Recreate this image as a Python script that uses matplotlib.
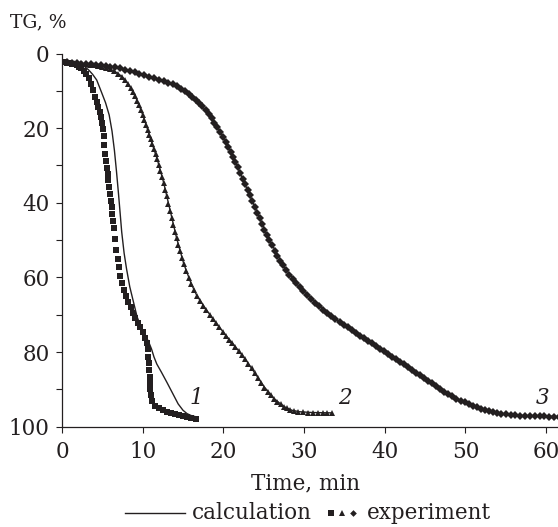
import matplotlib
matplotlib.use("Agg")
import matplotlib.pyplot as plt
from matplotlib.lines import Line2D
from matplotlib.ticker import MultipleLocator

# Experimental points (time, min / TG, %)
exp1_t = [0, 0.3, 0.6, 0.9, 1.2, 1.5, 1.8, 2.1, 2.4, 2.7, 3.0, 3.3, 3.6, 3.85, 4.1, 4.3,
          4.5, 4.65, 4.8, 4.95, 5.05, 5.15, 5.25, 5.35, 5.45, 5.55, 5.65, 5.75, 5.85, 5.95,
          6.05, 6.15, 6.25, 6.35, 6.45, 6.6, 6.75, 6.9, 7.05, 7.25, 7.45, 7.7, 7.95, 8.2,
          8.5, 8.8, 9.1, 9.4, 9.7, 10.0, 10.3, 10.5, 10.6, 10.7, 10.75, 10.8, 10.85, 10.9,
          10.95, 11.05, 11.2, 11.5, 12.0, 12.5, 13.0, 13.5, 14.0, 14.5, 15.0, 15.5, 16.0, 16.6]
exp1_y = [2.3, 2.4, 2.5, 2.6, 2.7, 2.8, 3.0, 3.5, 4.0, 4.6, 5.4, 6.6, 8.2, 9.8, 11.6, 12.9,
          14.3, 15.6, 17.0, 18.6, 20.3, 22.2, 24.4, 26.8, 28.8, 30.6, 32.3, 34.0, 35.8, 37.6,
          39.4, 41.1, 42.9, 44.8, 46.8, 49.8, 52.6, 55.0, 57.2, 59.5, 61.4, 63.4, 65.0, 66.5,
          68.0, 69.5, 70.9, 72.2, 73.4, 74.6, 76.2, 77.7, 79.3, 81.2, 83.0, 84.8, 86.6, 88.3,
          89.9, 91.5, 93.0, 94.4, 95.0, 95.5, 96.0, 96.3, 96.6, 96.9, 97.1, 97.4, 97.6, 97.9]

exp2_t = [0, 0.5, 1, 1.5, 2, 2.5, 3, 3.5, 4, 4.5, 5, 5.5, 6, 6.5, 7, 7.4, 7.8, 8.2, 8.5,
          8.8, 9.05, 9.3, 9.55, 9.8, 10.0, 10.2, 10.4, 10.6, 10.8, 11.0, 11.2, 11.4, 11.6,
          11.8, 12.0, 12.2, 12.4, 12.6, 12.8, 13.0, 13.2, 13.4, 13.6, 13.8, 14.0, 14.2, 14.4,
          14.6, 14.85, 15.1, 15.4, 15.7, 16.0, 16.35, 16.7, 17.1, 17.5, 17.9, 18.3, 18.7,
          19.1, 19.5, 19.9, 20.3, 20.7, 21.1, 21.5, 21.9, 22.3, 22.7, 23.1, 23.5, 23.9, 24.3,
          24.7, 25.1, 25.5, 25.9, 26.3, 26.7, 27.1, 27.5, 27.9, 28.3, 28.8, 29.3, 29.9, 30.5,
          31.1, 31.7, 32.3, 32.9, 33.5]
exp2_y = [2.3, 2.4, 2.5, 2.6, 2.7, 2.8, 2.9, 3.0, 3.1, 3.3, 3.5, 3.8, 4.2, 4.8, 5.5, 6.2,
          7.1, 8.2, 9.2, 10.3, 11.4, 12.6, 13.9, 15.2, 16.4, 17.7, 19.1, 20.5, 21.8, 23.0,
          24.3, 25.6, 27.0, 28.4, 29.9, 31.4, 33.0, 34.7, 36.5, 38.3, 40.2, 42.1, 44.0, 45.9,
          47.7, 49.5, 51.2, 52.8, 54.7, 56.5, 58.4, 60.1, 61.7, 63.4, 64.9, 66.3, 67.6, 68.8,
          70.0, 71.2, 72.3, 73.4, 74.5, 75.6, 76.7, 77.7, 78.7, 79.7, 80.8, 81.9, 83.1, 84.4,
          85.7, 87.0, 88.3, 89.5, 90.6, 91.6, 92.5, 93.3, 94.0, 94.6, 95.1, 95.5, 95.8, 96.0,
          96.1, 96.2, 96.2, 96.2, 96.2, 96.2, 96.2]

exp3_t = [0, 0.6, 1.2, 1.8, 2.4, 3.0, 3.6, 4.2, 4.8, 5.4, 6.0, 6.6, 7.2, 7.8, 8.4, 9.0, 9.6,
          10.2, 10.8, 11.4, 12.0, 12.6, 13.2, 13.7, 14.2, 14.7, 15.2, 15.7, 16.15, 16.6, 17.0,
          17.4, 17.8, 18.2, 18.55, 18.9, 19.25, 19.6, 19.95, 20.3, 20.6, 20.9, 21.2, 21.5,
          21.8, 22.1, 22.4, 22.7, 23.0, 23.3, 23.6, 23.9, 24.2, 24.5, 24.8, 25.1, 25.4, 25.7,
          26.0, 26.35, 26.7, 27.05, 27.4, 27.8, 28.2, 28.6, 29.0, 29.45, 29.9, 30.4, 30.9,
          31.4, 31.9, 32.4, 32.9, 33.4, 33.9, 34.4, 34.9, 35.4, 35.9, 36.4, 36.9, 37.4, 37.9,
          38.4, 38.9, 39.4, 39.9, 40.4, 40.9, 41.4, 41.9, 42.4, 42.9, 43.4, 43.9, 44.4, 44.9,
          45.4, 45.9, 46.4, 46.9, 47.4, 47.9, 48.4, 48.9, 49.4, 49.9, 50.4, 50.9, 51.4, 51.9,
          52.4, 52.9, 53.4, 53.9, 54.4, 55.0, 55.6, 56.2, 56.8, 57.4, 58.0, 58.6, 59.2, 59.8,
          60.4, 61.0, 61.6]
exp3_y = [2.3, 2.4, 2.5, 2.6, 2.7, 2.8, 2.9, 3.0, 3.1, 3.3, 3.5, 3.7, 4.0, 4.3, 4.6, 5.0, 5.4,
          5.8, 6.2, 6.6, 7.0, 7.4, 7.8, 8.3, 8.8, 9.4, 10.1, 10.9, 11.7, 12.5, 13.2,
          14.1, 15.1, 16.2, 17.3, 18.5, 19.7, 21.0, 22.3, 23.7, 25.0, 26.3, 27.7, 29.1,
          30.5, 32.0, 33.5, 35.0, 36.5, 38.0, 39.6, 41.1, 42.7, 44.2, 45.7, 47.2, 48.6, 50.0,
          51.4, 52.8, 54.2, 55.5, 56.8, 58.1, 59.3, 60.5, 61.6, 62.7, 63.7, 64.8, 65.8,
          66.8, 67.7, 68.6, 69.5, 70.3, 71.1, 71.9, 72.7, 73.4, 74.2, 74.9, 75.6, 76.3, 77.0,
          77.7, 78.4, 79.1, 79.8, 80.5, 81.2, 81.9, 82.6, 83.3, 84.0, 84.8, 85.5, 86.2, 87.0,
          87.7, 88.4, 89.2, 89.9, 90.6, 91.3, 91.9, 92.5, 93.0, 93.5, 94.0, 94.4, 94.8, 95.2,
          95.5, 95.8, 96.1, 96.3, 96.5, 96.7, 96.8, 96.9, 97.0, 97.0, 97.1, 97.1, 97.2, 97.2,
          97.3, 97.3, 97.3]

# Calculated curves
calc1_t = [0, 1.0, 2.0, 2.8, 3.3, 3.8, 4.3, 4.9, 5.4, 5.85, 6.2, 6.5, 6.75, 7.0, 7.2, 7.4,
           7.7, 8.0, 8.4, 8.85, 9.3, 9.7, 10.1, 10.5, 10.8, 11.1, 11.4, 11.75, 12.3, 13.0,
           13.7, 14.4, 15.0, 15.5, 16.0, 16.7]
calc1_y = [2.3, 2.4, 2.8, 3.5, 4.4, 5.6, 7.1, 10.4, 13.2, 16.5, 20.8, 26.0, 31.5, 37.5, 42.6,
           47.8, 53.5, 57.7, 62.5, 66.5, 70.5, 72.8, 74.5, 76.2, 77.6, 79.2, 81.3, 83.2, 85.3,
           88.1, 91.0, 93.9, 95.6, 96.5, 97.0, 97.4]

calc2_t = [0, 2, 4, 5.5, 6.5, 7.4, 8.2, 8.8, 9.5, 10.2, 11.0, 11.8, 12.6, 13.4, 14.2, 15.1,
           16.0, 16.7, 17.9, 19.1, 20.3, 21.5, 22.7, 23.9, 25.1, 26.3, 27.5, 28.5, 29.5, 31.0,
           33.5]
calc2_y = [2.3, 2.6, 3.0, 3.7, 4.7, 6.1, 8.1, 10.2, 13.5, 17.6, 23.0, 28.3, 34.6, 42.0, 49.4,
           56.4, 61.6, 64.8, 68.7, 72.2, 75.5, 78.6, 81.8, 85.6, 89.4, 92.5, 94.6, 95.6, 96.0,
           96.2, 96.3]

calc3_t = [0, 4, 8, 11, 13.5, 15.5, 17.5, 19.5, 21.5, 23.5, 25.5, 27.5, 29.5, 31.5, 34.0,
           37.0, 40.0, 43.0, 46.0, 49.0, 51.5, 54.0, 57.0, 61.6]
calc3_y = [2.3, 2.9, 4.4, 6.4, 8.1, 10.6, 14.4, 20.5, 29.1, 39.1, 49.1, 57.1, 62.8, 67.0, 71.3,
           76.0, 80.2, 84.4, 88.7, 92.6, 94.9, 96.5, 97.0, 97.3]

ink = "#231f20"
plt.rcParams["font.family"] = ["DejaVu Serif"]
plt.rcParams["mathtext.fontset"] = "dejavuserif"
fs = 15.5

fig = plt.figure(figsize=(5.58, 5.27), dpi=100)
ax = fig.add_axes([62 / 558, 100.3 / 527, 62 * 8.067 / 558, 373.2 / 527])

ax.plot(calc1_t, calc1_y, color=ink, lw=1.0, zorder=2)
ax.plot(calc2_t, calc2_y, color=ink, lw=1.0, zorder=2)
ax.plot(calc3_t, calc3_y, color=ink, lw=1.0, zorder=2)
ax.plot(exp1_t, exp1_y, ls="none", marker="s", ms=4.6, color=ink, mew=0, zorder=3)
ax.plot(exp2_t, exp2_y, ls="none", marker="^", ms=4.6, color=ink, mew=0, zorder=3)
ax.plot(exp3_t, exp3_y, ls="none", marker="D", ms=3.6, color=ink, mew=0, zorder=3)

ax.text(16.7, 92.3, "1", style="italic", fontsize=fs, ha="center", va="center", color=ink)
ax.text(35.1, 92.3, "2", style="italic", fontsize=fs, ha="center", va="center", color=ink)
ax.text(59.6, 92.3, "3", style="italic", fontsize=fs, ha="center", va="center", color=ink)

ax.set_xlim(0, 62)
ax.set_ylim(100, 0)
ax.xaxis.set_major_locator(MultipleLocator(10))
ax.yaxis.set_major_locator(MultipleLocator(20))
ax.yaxis.set_minor_locator(MultipleLocator(10))
for s in ["top", "right"]:
    ax.spines[s].set_visible(False)
for s in ["left", "bottom"]:
    ax.spines[s].set_linewidth(0.9)
    ax.spines[s].set_color(ink)
ax.tick_params(which="both", direction="out", length=4, width=0.8, color=ink,
               labelsize=fs, labelcolor=ink)
ax.tick_params(axis="x", pad=6)
ax.tick_params(axis="y", pad=5)

fig.text(10 / 558, 1 - 22 / 527, "TG, %", fontsize=13.5, ha="left", va="center", color=ink)
fig.text(306 / 558, 1 - 483 / 527, "Time, min", fontsize=fs, ha="center", va="center",
         color=ink)

# legend drawn by hand below the axes
ly = 1 - 513 / 527
fig.add_artist(Line2D([125 / 558, 185 / 558], [ly, ly], color=ink, lw=1.0))
fig.text(192 / 558, ly, "calculation", fontsize=fs, ha="left", va="center", color=ink)
for xm, mk, sz in [(331, "s", 4.0), (342, "^", 4.2), (353, "D", 3.4)]:
    fig.add_artist(Line2D([xm / 558], [ly], marker=mk, ms=sz, color=ink, mew=0, ls="none"))
fig.text(367 / 558, ly, "experiment", fontsize=fs, ha="left", va="center", color=ink)

fig.savefig("out.png", dpi=100)
